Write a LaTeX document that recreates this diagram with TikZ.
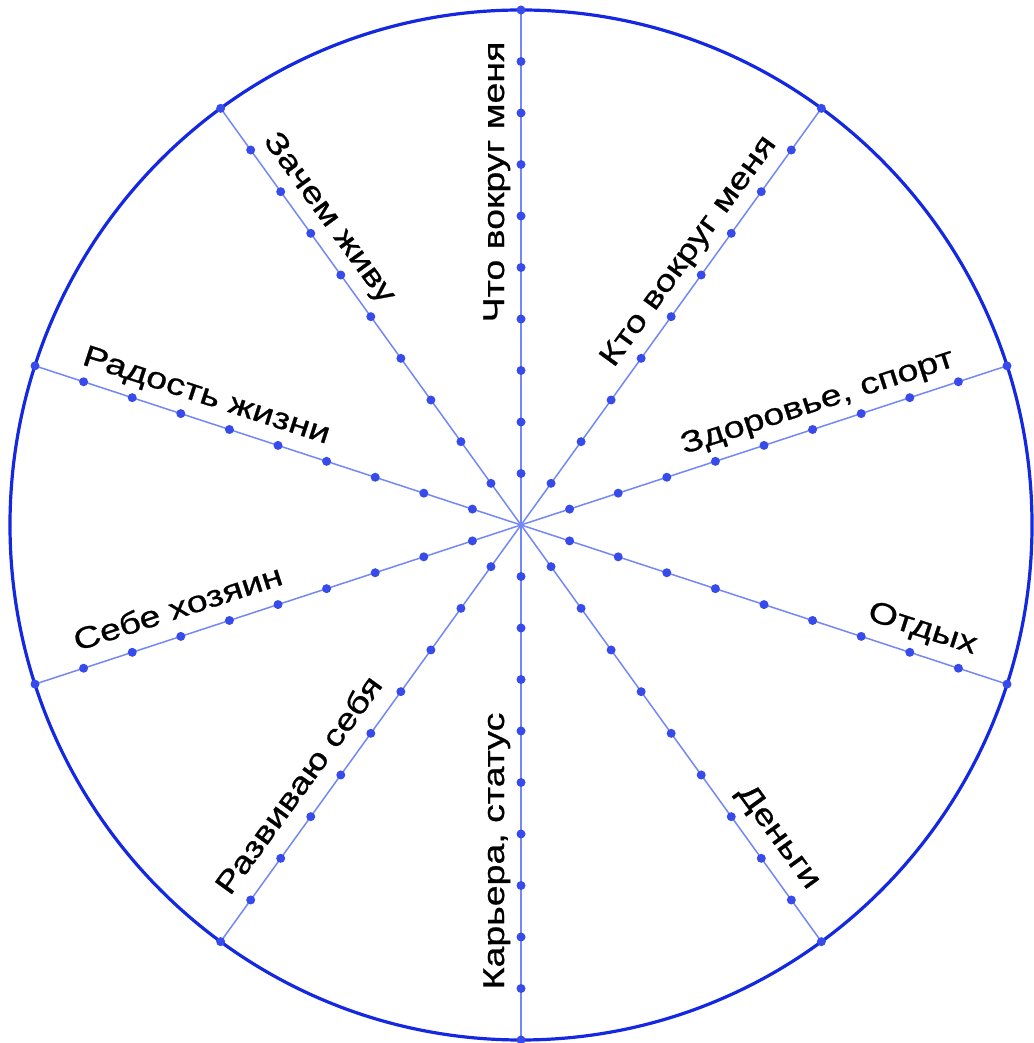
\documentclass[tikz,border=0pt]{standalone}
\usepackage{fontspec}
\newfontfamily\lblfont[FakeStretch=1.25,FakeBold=0.8]{Liberation Sans}
\usetikzlibrary{calc}
\definecolor{rim}{RGB}{20,40,225}
\definecolor{spokec}{RGB}{115,135,245}
\definecolor{dotc}{RGB}{55,75,235}
\tikzset{
  rimline/.style={draw=rim,line width=3.2pt},
  spokeline/.style={draw=spokec,line width=1.5pt},
  dotfill/.style={fill=dotc},
  lbl/.style={font=\lblfont\fontsize{30}{30}\selectfont,inner sep=0pt,anchor=base,text=black}
}
\begin{document}
\begin{tikzpicture}[x=1pt,y=1pt]
\useasboundingbox (0,0) rectangle (1033,1043);
\coordinate (O) at (521,518);
\foreach \a [count=\i] in {90,54,18,-18,-54,-90,-126,-162,162,126} {
  \coordinate (E\i) at ($(O)+(\a:511 and 515)$);
  \draw[spokeline] (O) -- (E\i);
}
\draw[rimline] (O) ellipse [x radius=511, y radius=515];
\foreach \i in {1,...,10} {
  \foreach \k in {1,...,10} {
    \fill[dotfill] ($(O)!\k/10!(E\i)$) circle [radius=4.5];
  }
}
\foreach \a/\r/\d/\t [count=\i] in {
  90/90/343/{Что вокруг меня},
  54/54/320/{Кто вокруг меня},
  18/18/320/{Здоровье, спорт},
  -18/-18/414/{Отдых},
  -54/-54/404/{Деньги},
  -90/90/326/{Карьера, статус},
  -126/54/341/{Развиваю себя},
  -162/18/352/{Себе хозяин},
  162/-18/339/{Радость жизни},
  126/-54/361/{Зачем живу}} {
  \node[lbl,rotate=\r] (L\i) at ($(O)+(\a:\d)+(\r+90:17)$) {\t};
}
\end{tikzpicture}
\end{document}
